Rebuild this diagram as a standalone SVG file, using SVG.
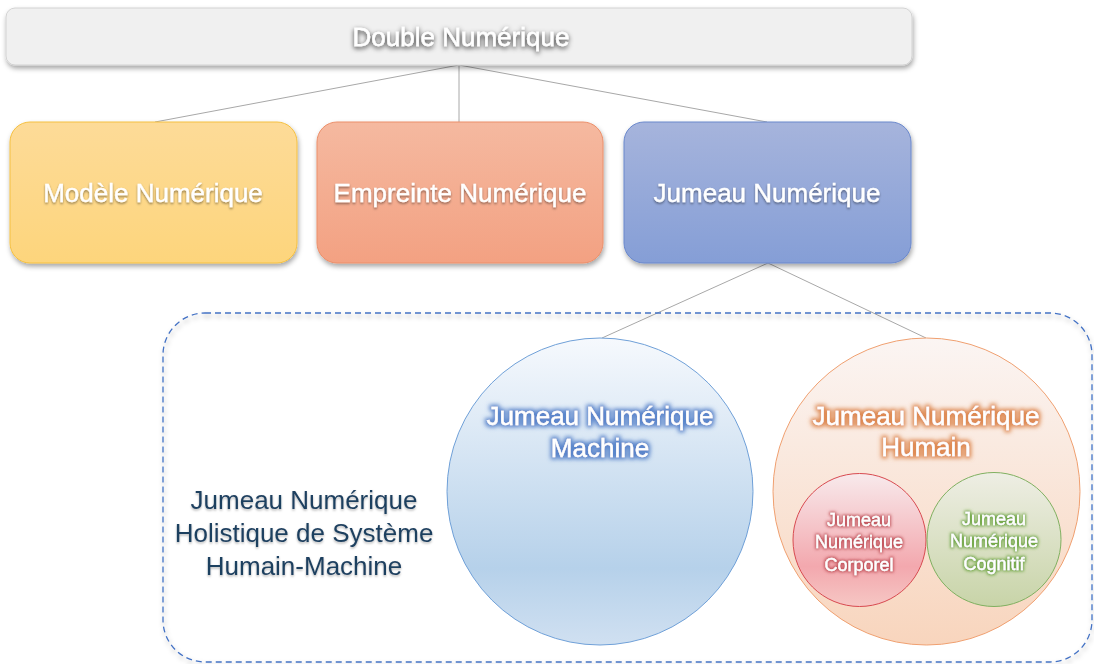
<svg xmlns="http://www.w3.org/2000/svg" width="1094" height="664" viewBox="0 0 1094 664">
<defs>
<style>
.t{font-family:"Liberation Sans",Arial,sans-serif;text-anchor:middle;fill:#fff;stroke:#fff;stroke-width:0.35}
.big{font-size:26px}
.mid{font-size:26px}
.sm{font-size:18px}
.dark{fill:#1f3f5f;stroke:none;font-size:26px}
.conn{stroke:#a8a8a8;stroke-width:1;fill:none}
</style>
<linearGradient id="gY" x1="0" y1="0" x2="0" y2="1"><stop offset="0" stop-color="#fddb98"/><stop offset="1" stop-color="#fdd57c"/></linearGradient>
<linearGradient id="gO" x1="0" y1="0" x2="0" y2="1"><stop offset="0" stop-color="#f5b9a0"/><stop offset="1" stop-color="#f3a182"/></linearGradient>
<linearGradient id="gB" x1="0" y1="0" x2="0" y2="1"><stop offset="0" stop-color="#a6b4dc"/><stop offset="1" stop-color="#859ed6"/></linearGradient>
<linearGradient id="gM" x1="0" y1="0" x2="0" y2="1"><stop offset="0" stop-color="#f6f9fd"/><stop offset="0.75" stop-color="#b6d1ea"/><stop offset="1" stop-color="#d0e0f1"/></linearGradient>
<linearGradient id="gH" x1="0" y1="0" x2="0" y2="1"><stop offset="0" stop-color="#fbf5f3"/><stop offset="1" stop-color="#f8d5bd"/></linearGradient>
<linearGradient id="gR" x1="0" y1="0" x2="0" y2="1"><stop offset="0" stop-color="#f8eaec"/><stop offset="0.7" stop-color="#f3a8ae"/><stop offset="1" stop-color="#f6c7c4"/></linearGradient>
<linearGradient id="gG" x1="0" y1="0" x2="0" y2="1"><stop offset="0" stop-color="#eeeee4"/><stop offset="1" stop-color="#c8d4a8"/></linearGradient>
<filter id="sh" x="-10%" y="-20%" width="120%" height="150%"><feDropShadow dx="1" dy="3" stdDeviation="2.5" flood-color="#000" flood-opacity="0.35"/></filter>
<filter id="tsh" x="-20%" y="-50%" width="140%" height="200%"><feDropShadow dx="0" dy="1.5" stdDeviation="1.2" flood-color="#000" flood-opacity="0.45"/></filter>
<filter id="tshL" x="-20%" y="-50%" width="140%" height="200%"><feDropShadow dx="0" dy="1.5" stdDeviation="1.2" flood-color="#000" flood-opacity="0.3"/></filter>
<filter id="tshD" x="-20%" y="-50%" width="140%" height="200%"><feDropShadow dx="0" dy="2" stdDeviation="2.5" flood-color="#000" flood-opacity="0.85"/></filter>
<filter id="gwB" x="-20%" y="-50%" width="140%" height="200%"><feMorphology in="SourceAlpha" operator="dilate" radius="1.5" result="d"/><feGaussianBlur in="d" stdDeviation="2" result="b"/><feFlood flood-color="#3a6cc0" flood-opacity="0.8"/><feComposite in2="b" operator="in" result="g"/><feMerge><feMergeNode in="g"/><feMergeNode in="SourceGraphic"/></feMerge></filter>
<filter id="gwO" x="-20%" y="-50%" width="140%" height="200%"><feMorphology in="SourceAlpha" operator="dilate" radius="1.5" result="d"/><feGaussianBlur in="d" stdDeviation="2" result="b"/><feFlood flood-color="#d9793a" flood-opacity="0.85"/><feComposite in2="b" operator="in" result="g"/><feMerge><feMergeNode in="g"/><feMergeNode in="SourceGraphic"/></feMerge></filter>
<filter id="gwR" x="-20%" y="-50%" width="140%" height="200%"><feMorphology in="SourceAlpha" operator="dilate" radius="1.2" result="d"/><feGaussianBlur in="d" stdDeviation="1.5" result="b"/><feFlood flood-color="#b84048" flood-opacity="0.85"/><feComposite in2="b" operator="in" result="g"/><feMerge><feMergeNode in="g"/><feMergeNode in="SourceGraphic"/></feMerge></filter>
<filter id="gwG" x="-20%" y="-50%" width="140%" height="200%"><feMorphology in="SourceAlpha" operator="dilate" radius="1.2" result="d"/><feGaussianBlur in="d" stdDeviation="1.5" result="b"/><feFlood flood-color="#5c9c2c" flood-opacity="0.85"/><feComposite in2="b" operator="in" result="g"/><feMerge><feMergeNode in="g"/><feMergeNode in="SourceGraphic"/></feMerge></filter>
</defs>
<rect width="1094" height="664" fill="#fff"/>

<g id="connectors">
<line class="conn" x1="459" y1="65" x2="155" y2="122"/>
<line class="conn" x1="459" y1="65" x2="459" y2="122"/>
<line class="conn" x1="459" y1="65" x2="767" y2="122"/>
<line class="conn" x1="768" y1="263" x2="602" y2="338"/>
<line class="conn" x1="768" y1="263" x2="926" y2="338"/>
</g>

<g id="double-numerique">
<rect x="6" y="8" width="906" height="57" rx="9" fill="#f0f0f0" stroke="#d2d2d2" filter="url(#sh)"/>
<text class="t big" x="461" y="46" filter="url(#tshD)">Double Numérique</text>
</g>

<g id="modele-numerique">
<rect x="10" y="122" width="287" height="141" rx="20" fill="url(#gY)" stroke="#f5c040" stroke-width="1" filter="url(#sh)"/>
<text class="t big" x="153" y="202" filter="url(#tsh)">Modèle Numérique</text>
</g>

<g id="empreinte-numerique">
<rect x="317" y="122" width="286" height="141" rx="20" fill="url(#gO)" stroke="#ec8f6a" stroke-width="1" filter="url(#sh)"/>
<text class="t big" x="460" y="202" filter="url(#tsh)">Empreinte Numérique</text>
</g>

<g id="jumeau-numerique">
<rect x="624" y="122" width="287" height="141" rx="20" fill="url(#gB)" stroke="#6a88cc" stroke-width="1" filter="url(#sh)"/>
<text class="t big" x="767" y="202" filter="url(#tsh)">Jumeau Numérique</text>
</g>

<g id="holistique">
<rect x="163" y="313" width="929" height="349" rx="42" fill="none" stroke="#4472c4" stroke-width="1.3" stroke-dasharray="6 4" filter="url(#sh)"/>
<text class="t dark" filter="url(#tshL)"><tspan x="304" y="509">Jumeau Numérique</tspan><tspan x="304" y="542">Holistique de Système</tspan><tspan x="304" y="575">Humain-Machine</tspan></text>
</g>

<g id="jumeau-machine">
<ellipse cx="600" cy="491.5" rx="153" ry="153.5" fill="url(#gM)" stroke="#6fa0d8" stroke-width="1"/>
<text class="t mid" filter="url(#gwB)"><tspan x="600" y="425">Jumeau Numérique</tspan><tspan x="600" y="457">Machine</tspan></text>
</g>

<g id="jumeau-humain">
<circle cx="926.5" cy="491.5" r="153.5" fill="url(#gH)" stroke="#f0a070" stroke-width="1"/>
<text class="t mid" filter="url(#gwO)"><tspan x="926" y="425">Jumeau Numérique</tspan><tspan x="926" y="456">Humain</tspan></text>
</g>

<g id="jumeau-corporel">
<circle cx="859.5" cy="540" r="66.5" fill="url(#gR)" stroke="#d84a50" stroke-width="1"/>
<text class="t sm" filter="url(#gwR)"><tspan x="859" y="526">Jumeau</tspan><tspan x="859" y="548">Numérique</tspan><tspan x="859" y="571">Corporel</tspan></text>
</g>

<g id="jumeau-cognitif">
<circle cx="994" cy="539.5" r="67" fill="url(#gG)" stroke="#80b060" stroke-width="1"/>
<text class="t sm" filter="url(#gwG)"><tspan x="994" y="525">Jumeau</tspan><tspan x="994" y="547">Numérique</tspan><tspan x="994" y="570">Cognitif</tspan></text>
</g>
</svg>
